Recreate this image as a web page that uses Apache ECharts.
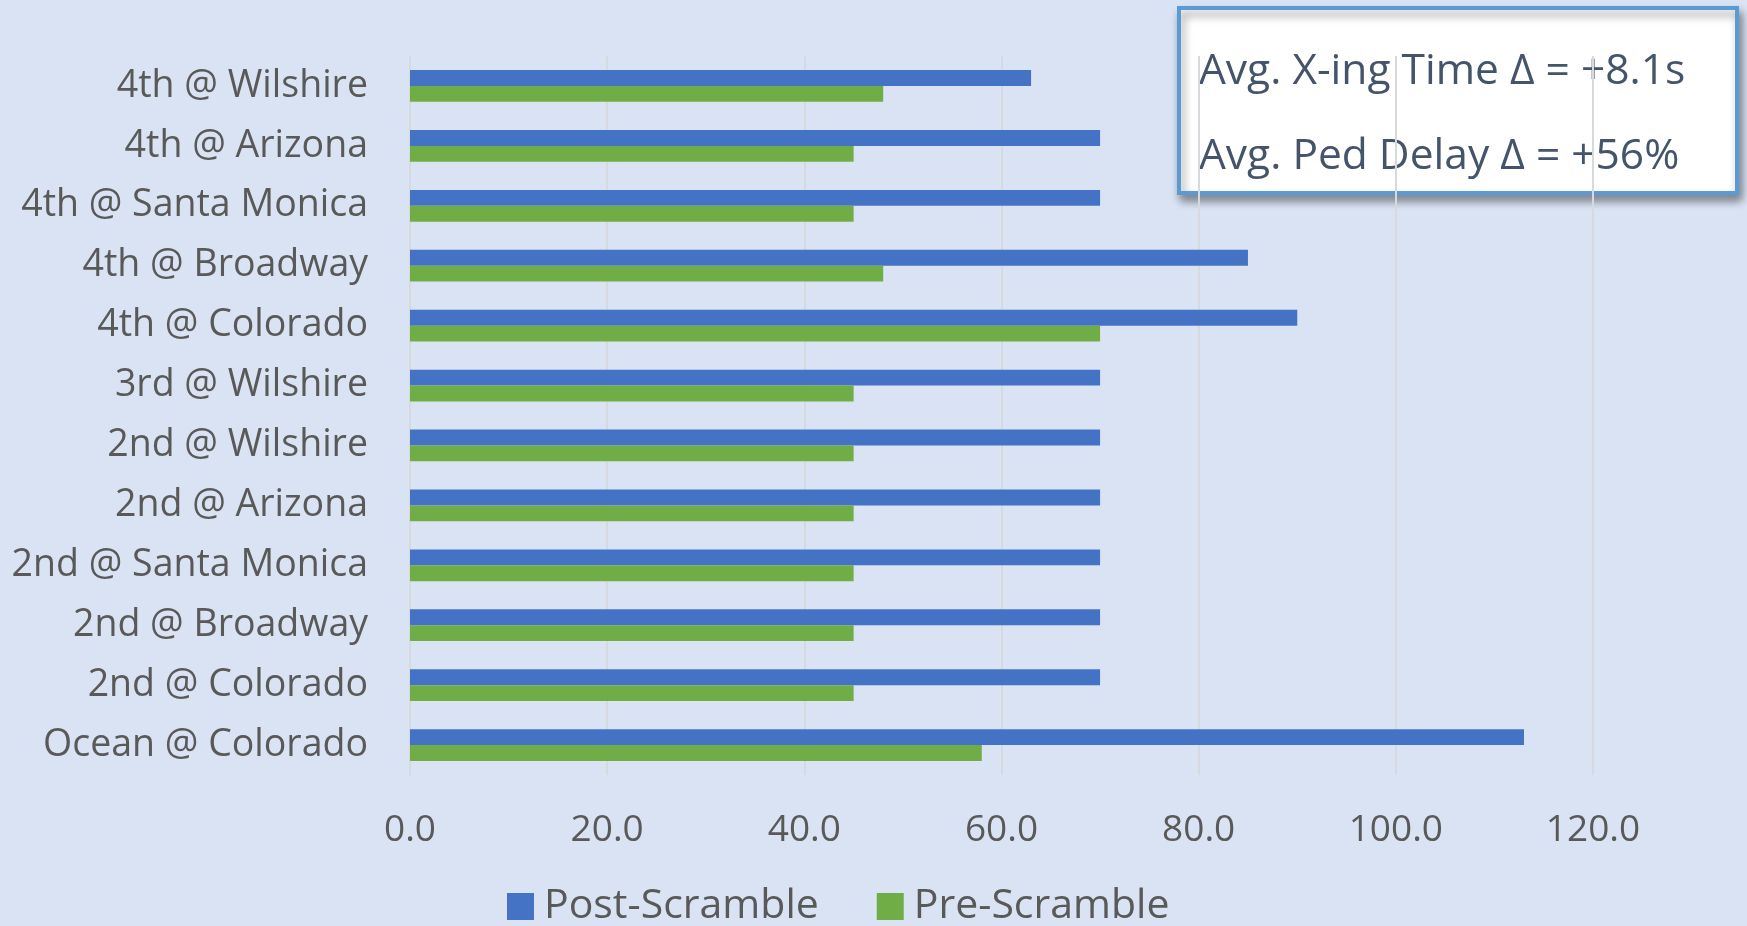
<!DOCTYPE html>
<html>
<head>
<meta charset="utf-8">
<script src="https://cdn.jsdelivr.net/npm/echarts@6/dist/echarts.min.js"></script>
<style>
  html, body { margin: 0; padding: 0; background: #dae3f3; }
  #chart { width: 1747px; height: 926px; }
</style>
</head>
<body>
<div id="chart"></div>
<script>
// Intersections, listed top to bottom
const intersections = [
  '4th @ Wilshire', '4th @ Arizona', '4th @ Santa Monica', '4th @ Broadway',
  '4th @ Colorado', '3rd @ Wilshire', '2nd @ Wilshire', '2nd @ Arizona',
  '2nd @ Santa Monica', '2nd @ Broadway', '2nd @ Colorado', 'Ocean @ Colorado'
];
// Pedestrian delay (seconds)
const postScramble = [63, 70, 70, 85, 90, 70, 70, 70, 70, 70, 70, 113];
const preScramble  = [48, 45, 45, 48, 70, 45, 45, 45, 45, 45, 45, 58];
const seriesNames = ['Post-Scramble', 'Pre-Scramble'];
const noteLines = ['Avg. X-ing Time \u0394 = +8.1s', 'Avg. Ped Delay \u0394 = +56%'];

const FONT = '"Open Sans", "Noto Sans", sans-serif';
const GRID_COLOR = '#d6d9de';
const chart = echarts.init(document.getElementById('chart'), null, { renderer: 'canvas' });

chart.setOption({
  backgroundColor: '#dae3f3',
  animation: false,
  grid: { left: 410, right: 154, top: 56, height: 719, containLabel: false },
  legend: {
    data: seriesNames,
    left: 502,
    top: 881,
    icon: 'rect',
    itemWidth: 27,
    itemHeight: 27,
    itemGap: 58,
    textStyle: { fontFamily: FONT, fontSize: 41, color: '#595959', padding: [0, 0, 0, 5] }
  },
  xAxis: {
    type: 'value',
    min: 0,
    max: 120,
    interval: 20,
    axisLine: { show: false },
    axisTick: { show: false },
    splitLine: { lineStyle: { color: GRID_COLOR, width: 2 } },
    axisLabel: {
      margin: 37,
      fontFamily: FONT, fontSize: 37, color: '#595959',
      formatter: v => v.toFixed(1)
    }
  },
  yAxis: {
    type: 'category',
    data: intersections,
    inverse: true,
    axisLine: { show: true, lineStyle: { color: GRID_COLOR, width: 2 } },
    axisTick: { show: false },
    axisLabel: { margin: 42, fontFamily: FONT, fontSize: 37.5, color: '#595959' }
  },
  series: [
    {
      name: seriesNames[0], type: 'bar', data: postScramble,
      barGap: '0%', barCategoryGap: '47%',
      itemStyle: { color: '#4472c4' }
    },
    {
      name: seriesNames[1], type: 'bar', data: preScramble,
      barGap: '0%', barCategoryGap: '47%',
      itemStyle: { color: '#70ad47' }
    }
  ],
  graphic: [
    {
      type: 'group',
      z: -10,
      children: [
        {
          type: 'rect',
          z: -10,
          shape: { x: 1179, y: 8, width: 558, height: 185 },
          style: {
            fill: '#ffffff', stroke: '#5b9bd5', lineWidth: 4,
            shadowBlur: 9, shadowOffsetX: 3, shadowOffsetY: 6, shadowColor: 'rgba(0,0,0,0.4)'
          }
        },
        {
          type: 'text', z: -9, x: 1199, y: 72,
          style: { text: noteLines[0], fill: '#44546a', font: '42.5px ' + FONT, verticalAlign: 'middle' }
        },
        {
          type: 'text', z: -9, x: 1199, y: 157,
          style: { text: noteLines[1], fill: '#44546a', font: '42.5px ' + FONT, verticalAlign: 'middle' }
        }
      ]
    }
  ]
});
</script>
</body>
</html>
